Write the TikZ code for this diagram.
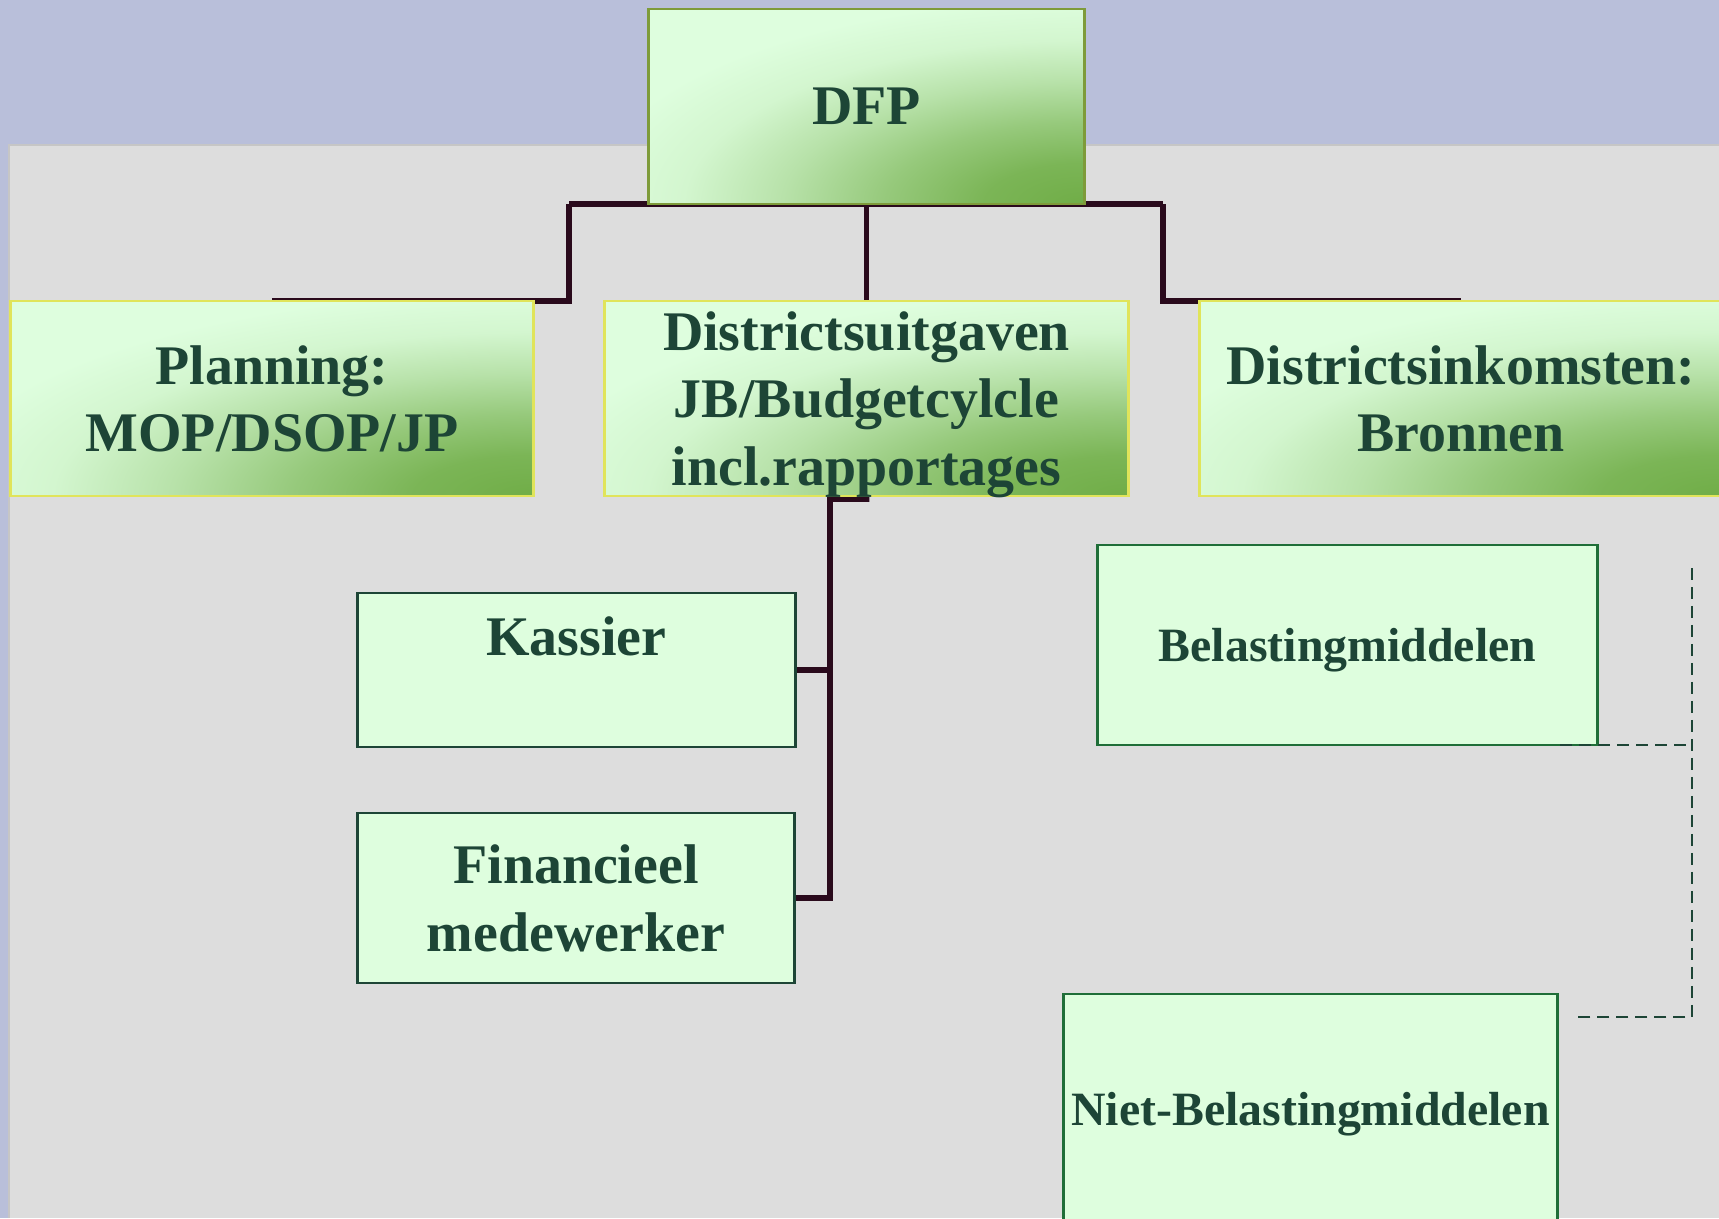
\documentclass[tikz,border=0pt]{standalone}
\usepackage{fontspec}
\setmainfont{Liberation Serif}
\usepackage{xcolor}
\usepackage{tikz}
\usetikzlibrary{positioning,calc,backgrounds}

\definecolor{lavendel}{HTML}{B9BFDA}
\definecolor{grijs}{HTML}{DDDDDD}
\definecolor{grijsrand}{HTML}{C6C6C6}
\definecolor{licht}{HTML}{DEFEDE}
\definecolor{donker}{HTML}{70AD47}
\definecolor{geel}{HTML}{E0E45A}
\definecolor{olijf}{HTML}{7E9B3A}
\definecolor{rand}{HTML}{1F6E38}
\definecolor{tekst}{HTML}{1D4536}
\definecolor{lijn}{HTML}{2A0A1C}

% zachte overgang vanuit de hoek rechtsonder
\pgfdeclareradialshading{hoek}{\pgfpointorigin}{color(0bp)=(donker); color(5bp)=(licht!10!donker);
	color(10bp)=(licht!35!donker); color(15bp)=(licht!65!donker); color(20bp)=(licht!90!donker);
	color(25bp)=(licht); color(50bp)=(licht)}

\begin{document}
\begin{tikzpicture}[x=0.01cm,y=-0.01cm, line join=miter]
	\useasboundingbox (0,0) rectangle (1719,1218);
	
	% ===== stijlen =====
	\tikzset{
		vak/.style={draw=rand, fill=licht, text=tekst, align=center, inner sep=0pt, outer sep=0pt,
			text depth=0pt, line width=0.8pt, font=\fontsize{15.9}{19.1}\selectfont\bfseries},
		verloop/.style={vak, draw=geel, path picture={
				\shade[shading=hoek]
				let \p1=($(path picture bounding box.north east)-(path picture bounding box.south west)$) in
				(path picture bounding box.south east) ellipse [x radius=1.15*\x1, y radius=1.05*\y1];}},
		klein/.style={font=\fontsize{13.6}{16.3}\selectfont\bfseries},
		conn/.style={draw=lijn, line width=1.6pt},
		stip/.style={draw=tekst, line width=0.6pt, dash pattern=on 3.4pt off 2pt}
	}
	
	% ===== bovenste rij =====
	\node[verloop, draw=olijf, minimum width=4.35cm, minimum height=1.95cm] (dfp) at (866.5,106.5) {DFP};
	\node[verloop, minimum width=5.22cm, minimum height=1.95cm] (plan) at (272,398.5) {Planning:\\MOP/DSOP/JP};
	\node[verloop, minimum width=5.23cm, minimum height=1.95cm] (uitg) at (866.5,398.5) {Districtsuitgaven\\JB/Budgetcylcle\\incl.rapportages};
	\node[verloop, minimum width=5.22cm, minimum height=1.95cm] (ink) at (1461,398.5) {Districtsinkomsten:\\Bronnen};
	
	% ===== onderste vakken =====
	\node[vak, draw=tekst, minimum width=4.37cm, minimum height=1.54cm] (kas) at (576.5,670) {Kassier\\\mbox{}};
	\node[vak, draw=tekst, minimum width=4.36cm, minimum height=1.70cm] (fin) at (576,898) {Financieel\\medewerker};
	\node[vak, klein, minimum width=4.99cm, minimum height=2.00cm] (bel) at (1347.5,645) {Belastingmiddelen};
	\node[vak, klein, minimum width=4.93cm, minimum height=2.30cm] (niet) at (1310.5,1109) {Niet-Belastingmiddelen};
	
	% ===== stippellijn rechts =====
	\coordinate (dtop) at (1692,568);
	\coordinate (deind) at (1575,1017);
	\draw[stip] (dtop) |- (deind);
	\draw[stip] ([xshift=-0.37cm]bel.south east) -- (bel.south east -| dtop);
	
	\begin{scope}[on background layer]
		% ===== achtergrond =====
		\fill[lavendel] (0,0) rectangle (1719,1218);
		\fill[grijs] (9,145) rectangle (1719,1218);
		\draw[grijsrand, line width=0.8pt] (9,1218) -- (9,145) -- (1719,145);
		
		% ===== verbindingen =====
		\coordinate (hl) at (569,204);
		\coordinate (hr) at (1163,204);
		\coordinate (knik) at (830,499);
		\draw[conn] (hl) -- (hr);
		\draw[conn] (hl) |- (plan.north);
		\draw[conn] (hr) |- (ink.north);
		\draw[conn] (dfp.south) -- (uitg.north);
		\draw[conn] (uitg.south) -- ++(0,3) -- (knik) |- (fin.east);
		\draw[conn] (knik) |- (kas.east);
	\end{scope}
\end{tikzpicture}
\end{document}
